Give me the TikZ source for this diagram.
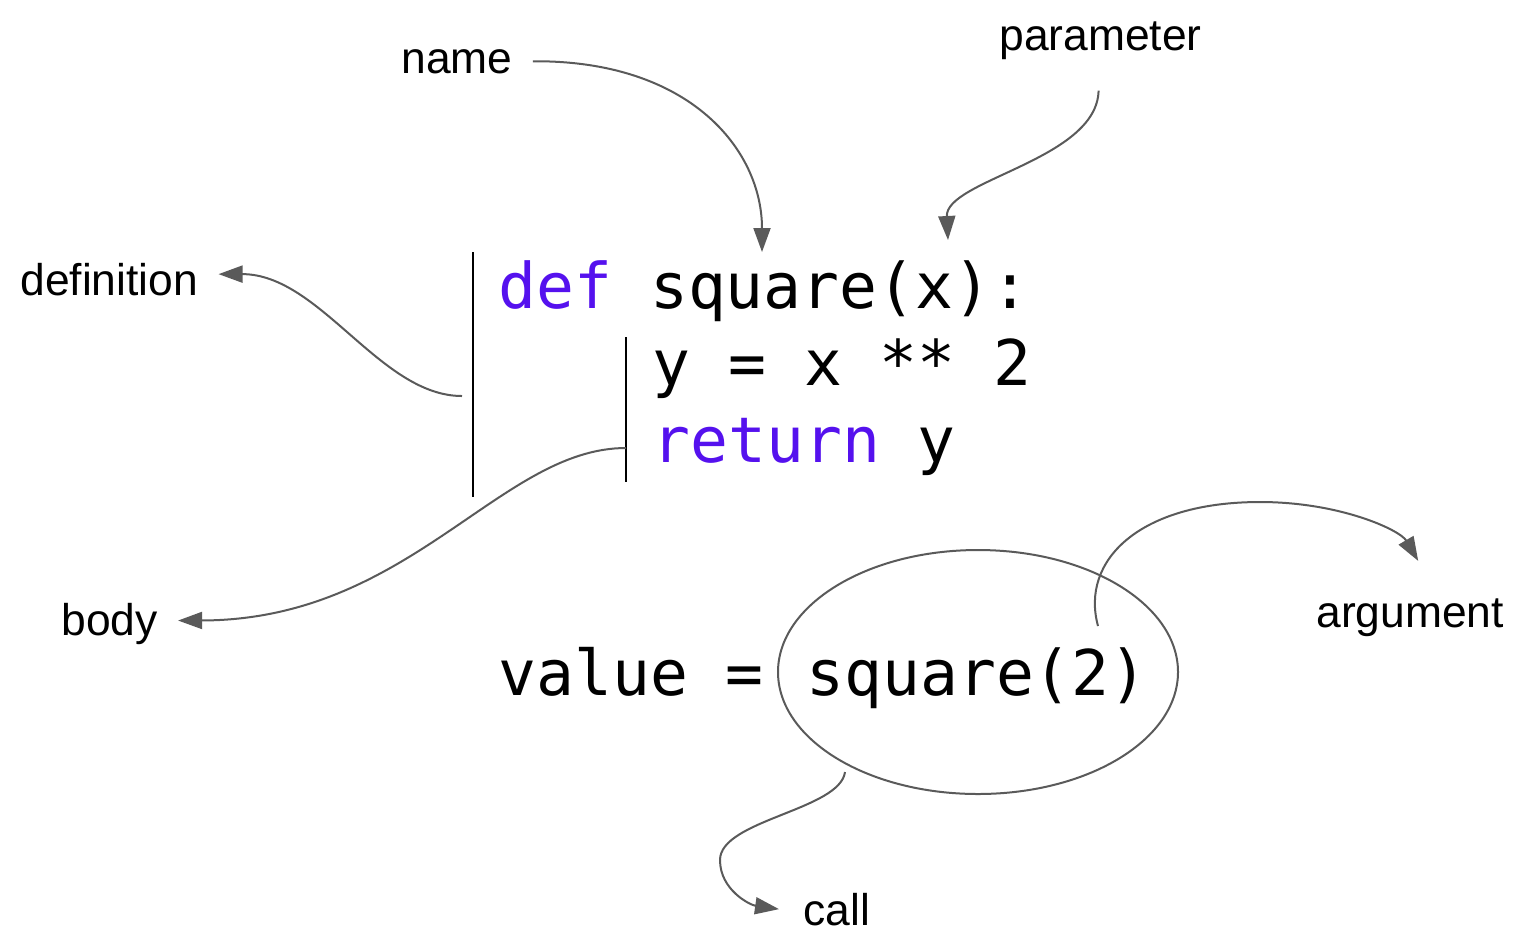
\documentclass[tikz,border=0pt]{standalone}
\usepackage{fontspec}
\setmainfont{Liberation Sans}
\setmonofont{DejaVu Sans Mono}
\usetikzlibrary{arrows.meta}

\definecolor{keyword}{RGB}{85,17,238}
\definecolor{arrowgray}{RGB}{90,90,90}
\newcommand{\kw}[1]{\textcolor{keyword}{#1}}

\tikzset{
  label/.style={anchor=base west,inner sep=0pt,font=\fontsize{22.2}{26}\selectfont},
  code/.style={anchor=base west,inner sep=0pt,font=\ttfamily\fontsize{31.5}{38}\selectfont},
  bar/.style={line width=1pt,black},
  pointer/.style={draw=arrowgray,line width=1pt,-{Triangle[length=12pt,width=8.5pt]}},
  ring/.style={draw=arrowgray,line width=1pt}
}

\begin{document}
\begin{tikzpicture}[x=0.5pt,y=-0.5pt]
\useasboundingbox (0,0) rectangle (1520,950);

% code
\node[code] (defline) at (498,308) {\kw{def} square(x):};
\node[code] (sqline) at (652,385) {y = x ** 2};
\node[code] (retline) at (652,462) {\kw{return} y};
\node[code] (value) at (498,695) {value =};
\node[code] (call) at (806,695) {square(2)};
\coordinate (ringcenter) at (978,672);
\draw[ring] (ringcenter) ellipse [x radius=100pt,y radius=61pt];

% block bars
\draw[bar] (473,252) -- (473,497);
\draw[bar] (626,337) -- (626,482);
\coordinate (defbar) at (462,396);
\coordinate (bodybar) at (626,448);
\coordinate (nametip) at (762,252);
\coordinate (paramtip) at (948,240);
\coordinate (argstart) at (1098,626);
\coordinate (callstart) at (845,772);

% labels
\node[label] (name) at (401,73) {name};
\node[label] (parameter) at (999,50) {parameter};
\node[label] (definition) at (20,295) {definition};
\node[label] (body) at (61,635) {body};
\node[label] (argument) at (1316,627) {argument};
\node[label] (calllabel) at (803,925) {call};

% pointers
\draw[pointer] ([xshift=10pt]name.east) .. controls (690,60) and (762,150) .. (nametip);
\draw[pointer] ([xshift=-1pt,yshift=-15.5pt]parameter.south) .. controls (1097,160) and (945,180) .. (paramtip);
\draw[pointer] (defbar) .. controls (380,396) and (320,274) .. ([xshift=10pt,yshift=2.5pt]definition.east);
\draw[pointer] (bodybar) .. controls (500,448) and (410,620) .. ([xshift=10pt,yshift=1.5pt]body.east);
\draw[pointer] (argstart) .. controls (1080,560) and (1140,502) .. (1260,502)
  .. controls (1340,502) and (1400,530) .. ([xshift=4pt,yshift=18.5pt]argument.north);
\draw[pointer] (callstart) .. controls (840,810) and (720,820) .. (720,860)
  .. controls (720,890) and (750,905) .. ([xshift=-12pt]calllabel.west);
\end{tikzpicture}
\end{document}
